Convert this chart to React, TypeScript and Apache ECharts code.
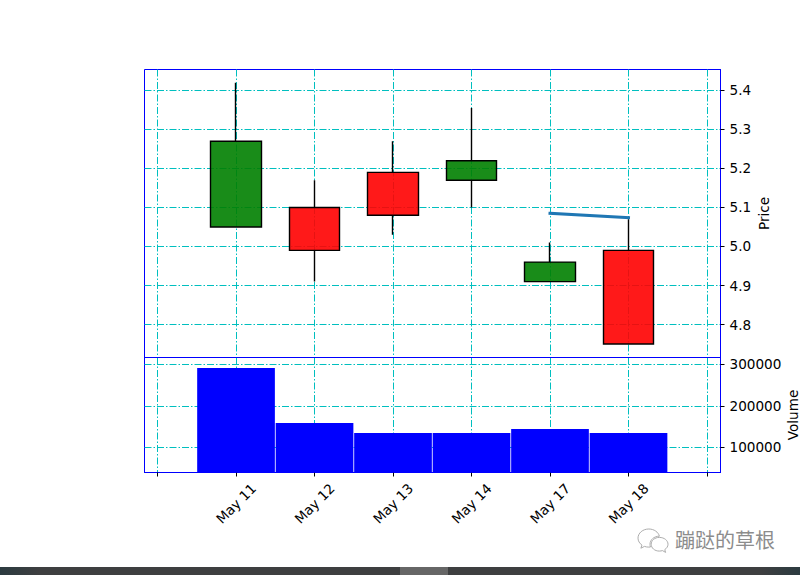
import React, { useEffect, useRef } from "react";
import * as echarts from "echarts";

const dates = ["May 11", "May 12", "May 13", "May 14", "May 17", "May 18"];
const opens = [5.05, 5.1, 5.19, 5.17, 4.91, 4.99];
const closes = [5.27, 4.99, 5.08, 5.22, 4.96, 4.75];
const lows = [5.05, 4.91, 5.03, 5.1, 4.91, 4.75];
const highs = [5.42, 5.17, 5.27, 5.355, 5.01, 5.07];
const volumes = [291000, 158500, 134500, 134500, 144000, 134500];
const linePoints = [[4, 5.085], [5, 5.074]];
const xTicks = [-1, 0, 1, 2, 3, 4, 5, 6];
const priceTicks = [4.8, 4.9, 5.0, 5.1, 5.2, 5.3, 5.4];
const volumeTicks = [100000, 200000, 300000];

const FONT = "DejaVu Sans";
const FS = 13.6;
const grid = { lineStyle: { color: "#00bfbf", width: 1, type: [7, 2, 1.5, 2] as number[] } };

echarts.graphic.registerShape(
  "wechatBubbles",
  echarts.graphic.extendPath(
    "M9 0C4 0 0 3.4 0 7.6 0 10 1.3 12 3.3 13.4L2.4 16 5.4 14.5C6.6 14.9 7.8 15.1 9 15.1 9.5 15.1 10 15.1 10.4 15 10.1 14.2 10 13.4 10 12.7 10 9 13.4 6 17.8 6 17 2.6 13.4 0 9 0ZM17.8 7C13.9 7 11 9.6 11 12.7 11 15.9 13.9 18.4 17.8 18.4 18.8 18.4 19.6 18.2 20.4 18L23 19.5 22.3 17.2C24 16 25 14.5 25 12.7 25 9.6 21.9 7 17.8 7Z",
    {}
  )
);

const xAxisBase = {
  type: "value" as const,
  min: -1.166,
  max: 6.172,
  axisLine: { show: true, onZero: false, lineStyle: { color: "#0000ff" } },
  splitLine: { show: true, ...grid },
};

export default function App() {
  const ref = useRef<HTMLDivElement>(null);
  useEffect(() => {
    const chart = echarts.init(ref.current!, undefined, { renderer: "svg" });
    chart.setOption({
      animation: false,
      backgroundColor: "#ffffff",
      textStyle: { fontFamily: FONT },
      grid: [
        { left: 144.5, top: 69.5, width: 576, height: 288, show: true, borderColor: "#0000ff", borderWidth: 1, backgroundColor: "transparent", outerBoundsMode: "none", containLabel: false },
        { left: 144.5, top: 357.5, width: 576, height: 115, show: true, borderColor: "#0000ff", borderWidth: 1, backgroundColor: "transparent", outerBoundsMode: "none", containLabel: false },
      ],
      xAxis: [
        {
          ...xAxisBase,
          gridIndex: 0,
          axisTick: { show: false, customValues: xTicks },
          axisLabel: { show: false, customValues: xTicks },
        },
        {
          ...xAxisBase,
          gridIndex: 1,
          axisTick: { show: true, customValues: xTicks, length: 4, lineStyle: { color: "#000000" } },
          axisLabel: {
            show: true,
            customValues: xTicks,
            rotate: 45,
            margin: 31,
            align: "center",
            verticalAlign: "middle",
            fontSize: FS,
            fontFamily: FONT,
            color: "#000000",
            formatter: (v: number) => dates[v] ?? "",
          },
        },
      ],
      yAxis: [
        {
          type: "value",
          gridIndex: 0,
          position: "right",
          min: 4.7154,
          max: 5.4538,
          name: "Price",
          nameLocation: "middle",
          nameGap: 36,
          nameMoveOverlap: false,
          nameRotate: 90,
          nameTextStyle: { fontSize: FS, fontFamily: FONT, color: "#000000" },
          axisLine: { show: true, onZero: false, lineStyle: { color: "#0000ff" } },
          axisTick: { show: true, customValues: priceTicks, length: 4, lineStyle: { color: "#000000" } },
          axisLabel: {
            show: true,
            customValues: priceTicks,
            margin: 9,
            fontSize: FS,
            fontFamily: FONT,
            color: "#000000",
            formatter: (v: number) => v.toFixed(1),
          },
          splitLine: { show: true, ...grid },
        },
        {
          type: "value",
          gridIndex: 1,
          position: "right",
          min: 39300,
          max: 316400,
          name: "Volume",
          nameLocation: "middle",
          nameGap: 65.5,
          nameMoveOverlap: false,
          nameRotate: 90,
          nameTextStyle: { fontSize: FS, fontFamily: FONT, color: "#000000" },
          axisLine: { show: true, onZero: false, lineStyle: { color: "#0000ff" } },
          axisTick: { show: true, customValues: volumeTicks, length: 4, lineStyle: { color: "#000000" } },
          axisLabel: {
            show: true,
            customValues: volumeTicks,
            margin: 9,
            fontSize: FS,
            fontFamily: FONT,
            color: "#000000",
            formatter: (v: number) => String(v),
          },
          splitLine: { show: true, ...grid },
        },
      ],
      series: [
        {
          type: "candlestick",
          xAxisIndex: 0,
          yAxisIndex: 0,
          barWidth: 51,
          encode: { x: 0, y: [1, 2, 3, 4] },
          itemStyle: {
            color: "rgba(0,128,0,0.9)",
            color0: "rgba(255,0,0,0.9)",
            borderColor: "#000000",
            borderColor0: "#000000",
            borderWidth: 1.4,
          },
          data: dates.map((_, i) => [i, opens[i], closes[i], lows[i], highs[i]]),
        },
        {
          type: "line",
          xAxisIndex: 0,
          yAxisIndex: 0,
          showSymbol: false,
          symbol: "none",
          lineStyle: { color: "#1f77b4", width: 3, cap: "square" },
          data: linePoints,
        },
        {
          type: "bar",
          xAxisIndex: 1,
          yAxisIndex: 1,
          barWidth: 77.7,
          itemStyle: { color: "#0000ff" },
          data: dates.map((_, i) => [i, volumes[i]]),
        },
      ],
      graphic: [
        {
          type: "rect",
          silent: true,
          shape: { x: 0, y: 567, width: 800, height: 8 },
          style: {
            fill: new echarts.graphic.LinearGradient(0, 0, 1, 0, [
              { offset: 0, color: "#2c3b40" },
              { offset: 0.05, color: "#3e3f40" },
              { offset: 0.95, color: "#3e3f40" },
              { offset: 1, color: "#2c3b40" },
            ]),
          },
        },
        {
          type: "rect",
          silent: true,
          shape: { x: 400, y: 567, width: 48, height: 8 },
          style: { fill: "#666666" },
        },
        {
          type: "wechatBubbles",
          silent: true,
          x: 638,
          y: 529,
          scaleX: 1.2,
          scaleY: 1.2,
          style: { fill: "#ffffff", stroke: "#a8a8a8", lineWidth: 0.8 },
        },
        {
          type: "text",
          silent: true,
          x: 675,
          y: 529,
          style: {
            text: "蹦跶的草根",
            fill: "#8c8c8c",
            fontSize: 20,
            fontFamily: "Noto Sans CJK SC",
          },
        },
      ],
    });
    return () => chart.dispose();
  }, []);
  return <div ref={ref} style={{ position: "absolute", left: 0, top: 0, width: 800, height: 575 }} />;
}
